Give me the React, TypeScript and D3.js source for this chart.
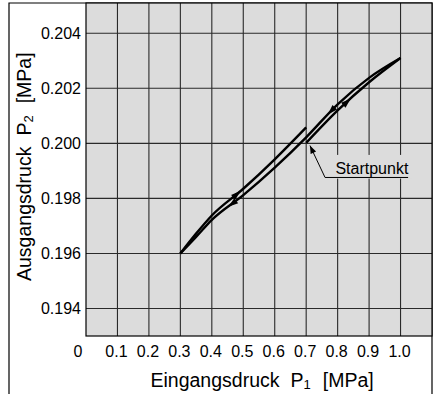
import React from "react";
import * as d3 from "d3";

const W = 441;
const H = 394;

const xTicks = [0.1, 0.2, 0.3, 0.4, 0.5, 0.6, 0.7, 0.8, 0.9, 1.0];
const xTickLabels = ["0.1", "0.2", "0.3", "0.4", "0.5", "0.6", "0.7", "0.8", "0.9", "1.0"];
const yTicks = [0.194, 0.196, 0.198, 0.2, 0.202, 0.204];
const yTickLabels = ["0.194", "0.196", "0.198", "0.200", "0.202", "0.204"];

// Startpunkt -> up to 1.0
const riseFromStart: [number, number][] = [
  [0.7, 0.20002], [0.8, 0.2012], [0.9, 0.20222], [1.0, 0.2031],
];
// 1.0 -> down to 0.3
const fallToMin: [number, number][] = [
  [1.0, 0.2031], [0.9, 0.20238], [0.8, 0.20142], [0.7, 0.20022],
  [0.6, 0.19912], [0.5, 0.19812], [0.4, 0.19722], [0.35, 0.1966], [0.3, 0.1960],
];
// 0.3 -> up to 0.7
const riseSecond: [number, number][] = [
  [0.3, 0.1960], [0.35, 0.19672], [0.4, 0.19738], [0.5, 0.19835], [0.6, 0.19942], [0.7, 0.20058],
];

const series = [riseFromStart, fallToMin, riseSecond];

// arrows: series index and x position (direction follows data order)
const arrowSeries = [0, 1, 2, 1];
const arrowX = [0.83, 0.78, 0.48, 0.465];

// annotation
const annoLabel = "Startpunkt";
const annoTip: [number, number] = [0.712, 0.19992];
const annoElbow: [number, number] = [0.76, 0.19876];
const annoEnd = 1.024;
const annoText: [number, number] = [0.793, 0.19888];
const annoBox: [number, number, number, number] = [0.766, 1.038, 0.19958, 0.19872];

const x = d3.scaleLinear().domain([0, 1.1]).range([86, 432]);
const y = d3.scaleLinear().domain([0.193, 0.2051]).range([336, 3]);

const FONT = "'Liberation Sans', Arial, Helvetica, sans-serif";

function interp(s: [number, number][], xv: number) {
  for (let i = 0; i < s.length - 1; i++) {
    const a = s[i], b = s[i + 1];
    const lo = Math.min(a[0], b[0]), hi = Math.max(a[0], b[0]);
    if (xv >= lo && xv <= hi) {
      const t = (xv - a[0]) / (b[0] - a[0]);
      return { p: [a[0] + t * (b[0] - a[0]), a[1] + t * (b[1] - a[1])], a, b };
    }
  }
  return null;
}

export default function App() {
  const line = d3.line<[number, number]>().x((d) => x(d[0])).y((d) => y(d[1])).curve(d3.curveMonotoneX);

  const arrows = arrowSeries.map((si, i) => {
    const r = interp(series[si], arrowX[i]);
    if (!r) return null;
    const px = x(r.p[0]), py = y(r.p[1]);
    const dx = x(r.b[0]) - x(r.a[0]), dy = y(r.b[1]) - y(r.a[1]);
    const ang = (Math.atan2(dy, dx) * 180) / Math.PI;
    return (
      <path key={i} d="M5,0 L-5,-3.2 L-5,3.2 Z" fill="#000" transform={`translate(${px},${py}) rotate(${ang})`} />
    );
  });

  const tipX = x(annoTip[0]), tipY = y(annoTip[1]);
  const elX = x(annoElbow[0]), elY = y(annoElbow[1]);
  const la = Math.atan2(tipY - elY, tipX - elX);
  const ah = 8, aw = 3;
  const head = [
    [tipX, tipY],
    [tipX - ah * Math.cos(la) + aw * Math.sin(la), tipY - ah * Math.sin(la) - aw * Math.cos(la)],
    [tipX - ah * Math.cos(la) - aw * Math.sin(la), tipY - ah * Math.sin(la) + aw * Math.cos(la)],
  ];

  return (
    <svg width={W} height={H} style={{ position: "absolute", left: 0, top: 0, background: "#fff" }}>
      {/* outer frame */}
      <path d={`M9,${H} V3 H432 V${H}`} fill="none" stroke="#000" strokeWidth={1.2} />
      {/* plot background */}
      <rect x={x(0)} y={y(0.2051)} width={x(1.1) - x(0)} height={y(0.193) - y(0.2051)} fill="#dcdcdc" />
      {/* grid */}
      {xTicks.map((t, i) => (
        <line key={"gx" + i} x1={x(t)} x2={x(t)} y1={y(0.2051)} y2={y(0.193)} stroke="#2a2a2a" strokeWidth={1.1} />
      ))}
      {yTicks.map((t, i) => (
        <line key={"gy" + i} x1={x(0)} x2={x(1.1)} y1={y(t)} y2={y(t)} stroke="#2a2a2a" strokeWidth={1.1} />
      ))}
      {/* plot border */}
      <rect x={x(0)} y={y(0.2051)} width={x(1.1) - x(0)} height={y(0.193) - y(0.2051)} fill="none" stroke="#000" strokeWidth={1.2} />
      {/* annotation box */}
      <rect
        x={x(annoBox[0])}
        y={y(annoBox[2])}
        width={x(annoBox[1]) - x(annoBox[0])}
        height={y(annoBox[3]) - y(annoBox[2])}
        fill="#dcdcdc"
      />
      {/* curves */}
      {series.map((s, i) => (
        <path key={"s" + i} d={line(s) || ""} fill="none" stroke="#000" strokeWidth={2.4} strokeLinejoin="round" />
      ))}
      {arrows}
      {/* annotation */}
      <path d={`M${tipX},${tipY} L${elX},${elY} L${x(annoEnd)},${elY}`} fill="none" stroke="#000" strokeWidth={1} />
      <path d={`M${head.map((p) => p.join(",")).join("L")}Z`} fill="#000" />
      <text x={x(annoText[0])} y={y(annoText[1])} fontFamily={FONT} fontSize={16} fill="#000">
        {annoLabel}
      </text>
      {/* y tick labels */}
      {yTicks.map((t, i) => (
        <text key={"yl" + i} x={81} y={y(t) + 6} textAnchor="end" fontFamily={FONT} fontSize={16} fill="#000">
          {yTickLabels[i]}
        </text>
      ))}
      {/* x tick labels */}
      <text x={78} y={356.5} textAnchor="middle" fontFamily={FONT} fontSize={16} fill="#000">0</text>
      {xTicks.map((t, i) => (
        <text key={"xl" + i} x={x(t) - 1} y={356.5} textAnchor="middle" fontFamily={FONT} fontSize={16} fill="#000">
          {xTickLabels[i]}
        </text>
      ))}
      {/* axis titles */}
      <text x={150.5} y={387} fontFamily={FONT} fontSize={19.5} fill="#000">
        <tspan>Eingangsdruck</tspan>
        <tspan dx={11}>P</tspan>
        <tspan fontSize={13} dy={2}>1</tspan>
        <tspan dy={-2} dx={12}>[MPa]</tspan>
      </text>
      <text transform="translate(30.5,281) rotate(-90)" x={0} y={0} fontFamily={FONT} fontSize={19.5} fill="#000">
        <tspan>Ausgangsdruck</tspan>
        <tspan dx={11}>P</tspan>
        <tspan fontSize={13} dy={2}>2</tspan>
        <tspan dy={-2} dx={12}>[MPa]</tspan>
      </text>
    </svg>
  );
}
